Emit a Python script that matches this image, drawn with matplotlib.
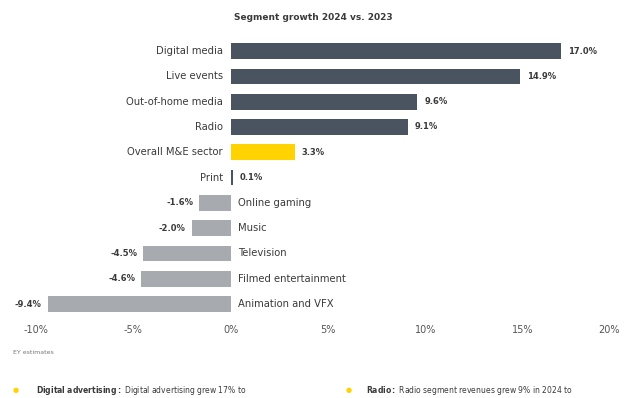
import matplotlib.pyplot as plt

categories = ["Digital media", "Live events", "Out-of-home media", "Radio",
              "Overall M&E sector", "Print", "Online gaming", "Music",
              "Television", "Filmed entertainment", "Animation and VFX"]
values = [17.0, 14.9, 9.6, 9.1, 3.3, 0.1, -1.6, -2.0, -4.5, -4.6, -9.4]
value_labels = ["17.0%", "14.9%", "9.6%", "9.1%", "3.3%", "0.1%",
                "-1.6%", "-2.0%", "-4.5%", "-4.6%", "-9.4%"]
xticks = [-10, -5, 0, 5, 10, 15, 20]
xtick_labels = ["-10%", "-5%", "0%", "5%", "10%", "15%", "20%"]

DARK = "#4a5461"
GREY = "#a7aaae"
YELLOW = "#ffd200"
TEXT = "#3a3a3a"

plt.rcParams["font.family"] = ["DejaVu Sans"]

fig = plt.figure(figsize=(6.27, 3.98), dpi=100)
ax = fig.add_axes([0.0574, 0.2044, 0.931, 0.699])

colors = []
for c, v in zip(categories, values):
    if c == "Overall M&E sector":
        colors.append(YELLOW)
    elif v >= 0:
        colors.append(DARK)
    else:
        colors.append(GREY)

ypos = list(range(len(categories)))
ax.barh(ypos, values, height=0.62, color=colors)
ax.set_ylim(len(categories) - 0.5, -0.5)
ax.set_xlim(-10, 20)

for y, c, v, lab in zip(ypos, categories, values, value_labels):
    if v >= 0:
        ax.text(-0.4, y, c, ha="right", va="center", fontsize=7.2, color=TEXT)
        ax.text(v + 0.35, y, lab, ha="left", va="center", fontsize=6,
                fontweight="bold", color=TEXT)
    else:
        ax.text(0.4, y, c, ha="left", va="center", fontsize=7.2, color=TEXT)
        ax.text(v - 0.3, y, lab, ha="right", va="center", fontsize=6,
                fontweight="bold", color=TEXT)

ax.set_xticks(xticks)
ax.set_xticklabels(xtick_labels, fontsize=7, color="#555555")
ax.get_xticklabels()[-1].set_horizontalalignment("right")
ax.tick_params(axis="x", length=0, pad=6)
ax.set_yticks([])
for s in ax.spines.values():
    s.set_visible(False)

fig.text(0.5, 0.955, "Segment growth 2024 vs. 2023", ha="center", va="center",
         fontsize=6.5, fontweight="bold", color=TEXT)
fig.text(0.02, 0.115, "EY estimates", ha="left", va="center", fontsize=4.5,
         color="#777777")

# notes below the chart
fig.text(0.02, 0.02, "\u25CF", ha="left", va="center", fontsize=5, color=YELLOW)
fig.text(0.057, 0.02, r"$\bf{Digital\ advertising:}$ Digital advertising grew 17% to",
         ha="left", va="center", fontsize=5.5, color=TEXT)
fig.text(0.551, 0.02, "\u25CF", ha="left", va="center", fontsize=5, color=YELLOW)
fig.text(0.584, 0.02, r"$\bf{Radio:}$ Radio segment revenues grew 9% in 2024 to",
         ha="left", va="center", fontsize=5.5, color=TEXT)

fig.savefig("out.png", dpi=100)
